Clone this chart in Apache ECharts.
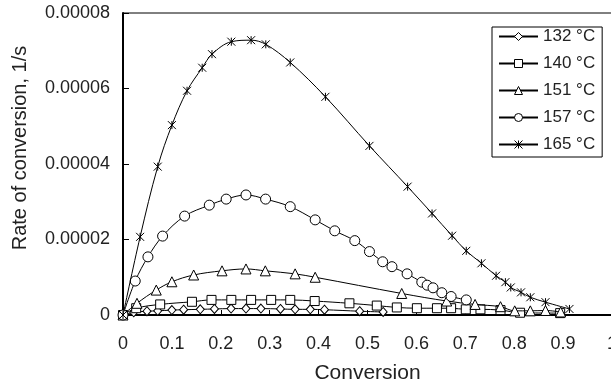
<!DOCTYPE html>
<html>
<head>
<meta charset="utf-8">
<script src="https://cdn.jsdelivr.net/npm/echarts@6/dist/echarts.min.js"></script>
<style>html,body{margin:0;padding:0;background:#fff;}#c{width:611px;height:385px;}</style>
</head>
<body>
<div id="c"></div>
<script>
// Data: [conversion, rate (1e-5 1/s)]
const seriesNames = ['132 °C', '140 °C', '151 °C', '157 °C', '165 °C'];
const xTicks = [0, 0.1, 0.2, 0.3, 0.4, 0.5, 0.6, 0.7, 0.8, 0.9, 1];
const yTicks = [0, 0.00002, 0.00004, 0.00006, 0.00008];
const s132 = [[0,0],[0.022,0.07],[0.049,0.10],[0.071,0.11],[0.100,0.13],[0.124,0.14],[0.158,0.15],[0.187,0.16],[0.221,0.17],[0.2515,0.17],[0.282,0.17],[0.322,0.16],[0.352,0.15],[0.383,0.15],[0.412,0.14],[0.484,0.10],[0.532,0.08]];
const s140 = [[0,0],[0.027,0.18],[0.076,0.28],[0.141,0.35],[0.181,0.40],[0.2215,0.40],[0.262,0.40],[0.303,0.40],[0.342,0.40],[0.392,0.37],[0.463,0.31],[0.519,0.25],[0.560,0.20],[0.601,0.18],[0.642,0.18],[0.671,0.18],[0.701,0.15],[0.731,0.15],[0.772,0.13],[0.812,0.06],[0.894,0.05]];
const s151 = [[0,0],[0.0286,0.31],[0.068,0.66],[0.100,0.88],[0.1445,1.06],[0.2025,1.17],[0.2515,1.22],[0.291,1.17],[0.352,1.09],[0.393,1.00],[0.570,0.57],[0.662,0.37],[0.720,0.28],[0.772,0.22],[0.801,0.11],[0.833,0.11],[0.864,0.12],[0.895,0.08]];
const s157 = [[0,0],[0.025,0.90],[0.051,1.54],[0.081,2.09],[0.126,2.62],[0.1765,2.91],[0.211,3.07],[0.2515,3.18],[0.2916,3.07],[0.342,2.87],[0.393,2.52],[0.433,2.23],[0.474,1.97],[0.504,1.68],[0.531,1.41],[0.550,1.28],[0.581,1.09],[0.611,0.87],[0.622,0.79],[0.634,0.72],[0.652,0.59],[0.671,0.49],[0.702,0.40]];
const s165 = [[0,0],[0.035,2.07],[0.071,3.93],[0.100,5.03],[0.131,5.94],[0.162,6.55],[0.182,6.91],[0.2215,7.24],[0.262,7.28],[0.292,7.17],[0.342,6.69],[0.414,5.78],[0.504,4.48],[0.582,3.40],[0.632,2.69],[0.673,2.10],[0.702,1.70],[0.733,1.37],[0.763,1.04],[0.782,0.87],[0.793,0.73],[0.814,0.60],[0.833,0.47],[0.864,0.34],[0.913,0.16]];
const yUnit = 1e-5;

const starPath = 'path://M0,0L10,10M10,0L0,10M5,0L5,10';
const symbols = ['diamond', 'rect', 'triangle', 'circle', starPath];
const symbolSizes = [[8,9], 9, 10, 10, 8];
const allData = [s132, s140, s151, s157, s165];

const chart = echarts.init(document.getElementById('c'), null, {renderer: 'canvas'});
const font = 'Liberation Sans, Arial, sans-serif';
const series = allData.map((d, i) => ({
  name: seriesNames[i],
  type: 'line',
  data: d.map(p => [p[0], p[1] * yUnit]),
  smooth: 0.35,
  symbol: symbols[i],
  symbolSize: symbolSizes[i],
  showAllSymbol: true,
  lineStyle: {color: '#000', width: 1},
  itemStyle: {color: '#fff', borderColor: '#000', borderWidth: 1},
  emphasis: {disabled: true},
  animation: false,
  z: 2 + i
}));

chart.setOption({
  animation: false,
  grid: {left: 123, top: 13, right: -1, bottom: 70, show: true, borderColor: '#000', borderWidth: 1,
    containLabel: false, outerBoundsMode: 'none'},
  xAxis: {
    type: 'value', min: xTicks[0], max: xTicks[xTicks.length - 1], interval: 0.1,
    name: 'Conversion', nameLocation: 'middle', nameGap: 48,
    nameTextStyle: {fontFamily: font, fontSize: 21, color: '#222'},
    axisLine: {show: true, lineStyle: {color: '#000', width: 2}},
    axisTick: {show: true, inside: true, length: 5, lineStyle: {color: '#000'}},
    axisLabel: {fontFamily: font, fontSize: 18, color: '#222', margin: 20,
      formatter: v => { const r = Math.round(v * 10) / 10; return String(r); }},
    splitLine: {show: false}
  },
  yAxis: {
    type: 'value', min: yTicks[0], max: yTicks[yTicks.length - 1], interval: 0.00002,
    axisLine: {show: true, lineStyle: {color: '#000', width: 2}},
    axisTick: {show: true, inside: true, length: 6, lineStyle: {color: '#000'}},
    axisLabel: {fontFamily: font, fontSize: 18, color: '#222', margin: 13,
      formatter: v => v === 0 ? '0' : v.toFixed(5)},
    splitLine: {show: false}
  },
  legend: {
    data: seriesNames,
    orient: 'vertical', left: 492, top: 27,
    padding: [1, 7, 4, 6],
    itemWidth: 39, itemHeight: 10, itemGap: 10,
    borderColor: '#000', borderWidth: 1, backgroundColor: '#fff',
    itemStyle: {color: '#fff', borderColor: '#000', borderWidth: 1},
    textStyle: {fontFamily: font, fontSize: 17, color: '#222'},
    selectedMode: false
  },
  graphic: [{
    type: 'text',
    style: {text: 'Rate of conversion, 1/s', font: '20px ' + font, fill: '#222', align: 'center', verticalAlign: 'middle'},
    rotation: Math.PI / 2, x: 20, y: 148
  }],
  series: series
});
</script>
</body>
</html>
